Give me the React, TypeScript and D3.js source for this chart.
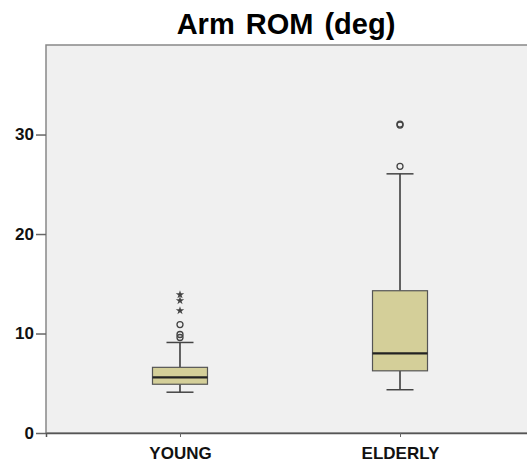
import { useEffect, useRef } from "react";
import * as d3 from "d3";

const groups = ["YOUNG", "ELDERLY"];
const whiskerLow = [4.1, 4.35];
const q1 = [4.9, 6.25];
const median = [5.6, 8.0];
const q3 = [6.6, 14.3];
const whiskerHigh = [9.1, 26.05];
const circleOutliers = [
  [9.6, 9.9, 10.9],
  [26.8, 30.95, 31.05],
];
const starOutliers = [[12.3, 13.3, 13.9], []];
const yTicks = [0, 10, 20, 30];

export default function App() {
  const ref = useRef<SVGSVGElement>(null);

  useEffect(() => {
    if (!ref.current) return;
    const width = 527;
    const height = 467;
    const margin = { top: 45, right: -7, bottom: 34, left: 46 };
    const innerWidth = width - margin.left - margin.right;
    const innerHeight = height - margin.top - margin.bottom;

    const root = d3.select(ref.current);
    root.selectAll("*").remove();
    root.attr("width", width).attr("height", height);

    root
      .append("text")
      .attr("x", 286)
      .attr("y", 34)
      .attr("text-anchor", "middle")
      .attr("font-family", "Liberation Sans, Arial, sans-serif")
      .attr("font-weight", "bold")
      .attr("font-size", 29)
      .attr("word-spacing", 3)
      .attr("fill", "#000")
      .text("Arm ROM (deg)");

    const svg = root
      .append("g")
      .attr("transform", `translate(${margin.left},${margin.top})`);

    const x = d3.scalePoint().domain(groups).range([0, innerWidth]).padding(0.609);
    const y = d3.scaleLinear().domain([0, 39]).range([innerHeight, 0]);

    svg
      .append("rect")
      .attr("width", innerWidth)
      .attr("height", innerHeight)
      .attr("fill", "#f0f0f0")
      .attr("stroke", "#888")
      .attr("stroke-width", 1.5);

    const yAxis = svg
      .append("g")
      .call(d3.axisLeft(y).tickValues(yTicks).tickSize(10).tickPadding(2).tickFormat(d3.format("d")));
    yAxis.select(".domain").remove();
    yAxis.selectAll("line").attr("stroke", "#666").attr("stroke-width", 1.5);
    yAxis
      .selectAll("text")
      .attr("font-family", "Liberation Sans, Arial, sans-serif")
      .attr("font-weight", "bold")
      .attr("font-size", 17)
      .attr("fill", "#111");

    const xAxis = svg
      .append("g")
      .attr("transform", `translate(0,${innerHeight})`)
      .call(d3.axisBottom(x).tickSize(4).tickPadding(10));
    xAxis.select(".domain").attr("stroke", "#555").attr("stroke-width", 1.5);
    xAxis.selectAll("line").attr("stroke", "#666");
    xAxis
      .selectAll("text")
      .attr("font-family", "Liberation Sans, Arial, sans-serif")
      .attr("font-weight", "bold")
      .attr("font-size", 17)
      .attr("fill", "#111");

    const boxW = 55;
    const capW = 27;

    groups.forEach((g, i) => {
      const cx = x(g) ?? 0;
      const grp = svg.append("g");

      grp
        .append("line")
        .attr("x1", cx)
        .attr("x2", cx)
        .attr("y1", y(whiskerLow[i]))
        .attr("y2", y(q1[i]))
        .attr("stroke", "#333")
        .attr("stroke-width", 1.5);
      grp
        .append("line")
        .attr("x1", cx)
        .attr("x2", cx)
        .attr("y1", y(q3[i]))
        .attr("y2", y(whiskerHigh[i]))
        .attr("stroke", "#333")
        .attr("stroke-width", 1.5);

      [whiskerLow[i], whiskerHigh[i]].forEach((v) => {
        grp
          .append("line")
          .attr("x1", cx - capW / 2)
          .attr("x2", cx + capW / 2)
          .attr("y1", y(v))
          .attr("y2", y(v))
          .attr("stroke", "#444")
          .attr("stroke-width", 1.5);
      });

      grp
        .append("rect")
        .attr("x", cx - boxW / 2)
        .attr("width", boxW)
        .attr("y", y(q3[i]))
        .attr("height", y(q1[i]) - y(q3[i]))
        .attr("fill", "#d4cf99")
        .attr("stroke", "#555")
        .attr("stroke-width", 1.2);

      grp
        .append("line")
        .attr("x1", cx - boxW / 2)
        .attr("x2", cx + boxW / 2)
        .attr("y1", y(median[i]))
        .attr("y2", y(median[i]))
        .attr("stroke", "#222")
        .attr("stroke-width", 2.2);

      grp
        .selectAll("circle")
        .data(circleOutliers[i])
        .enter()
        .append("circle")
        .attr("cx", cx)
        .attr("cy", (d: number) => y(d))
        .attr("r", 3)
        .attr("fill", "none")
        .attr("stroke", "#444")
        .attr("stroke-width", 1.3);

      grp
        .selectAll("path.star")
        .data(starOutliers[i])
        .enter()
        .append("path")
        .attr("class", "star")
        .attr("transform", (d: number) => `translate(${cx},${y(d)})`)
        .attr("d", d3.symbol().type(d3.symbolStar).size(22)())
        .attr("fill", "#444");
    });
  }, []);

  return <svg ref={ref} style={{ position: "absolute", left: 0, top: 0 }} />;
}
